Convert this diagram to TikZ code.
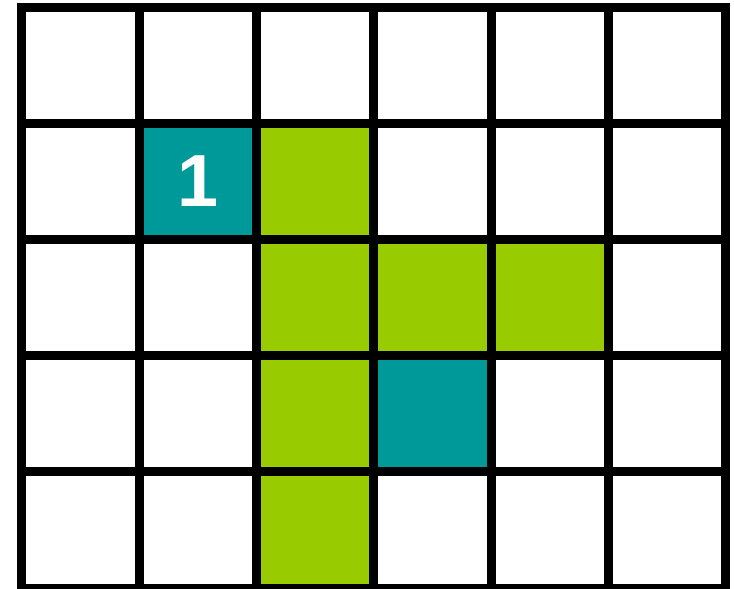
\documentclass[tikz,border=0pt]{standalone}
\usepackage{fontspec}
\setsansfont{Liberation Sans}
\usepackage{tikz}
\usetikzlibrary{positioning}
\definecolor{tealcell}{RGB}{0,153,153}
\definecolor{limecell}{RGB}{153,204,0}

\begin{document}
\begin{tikzpicture}[x=1.173cm, y=1.162cm]
\tikzset{gridline/.style={line width=0.09cm, black, line cap=rect}}
\tikzset{start/.style={fill=tealcell}}
\tikzset{path/.style={fill=limecell}}
\tikzset{num/.style={text=white, font=\fontsize{21}{21}\selectfont\sffamily\bfseries}}

\useasboundingbox (-0.22cm,0) rectangle (7.12cm,5.88cm);
\clip (-0.22cm,0) rectangle (7.12cm,5.88cm);

% coloured cells (column/row, row 0 at the top)
\foreach \c/\r in {2/1, 2/2, 3/2, 4/2, 2/3, 2/4}
  \fill[path] (\c,4-\r) rectangle ++(1,1);
\foreach \c/\r in {1/1, 3/3}
  \fill[start] (\c,4-\r) rectangle ++(1,1);
\node[num] (one) at (1.5,3.5) {1};

% the grid
\foreach \i in {0,...,6}
  \draw[gridline] (\i,0) -- (\i,5);
\foreach \j in {0,...,5}
  \draw[gridline] (0,\j) -- (6,\j);
\end{tikzpicture}
\end{document}
